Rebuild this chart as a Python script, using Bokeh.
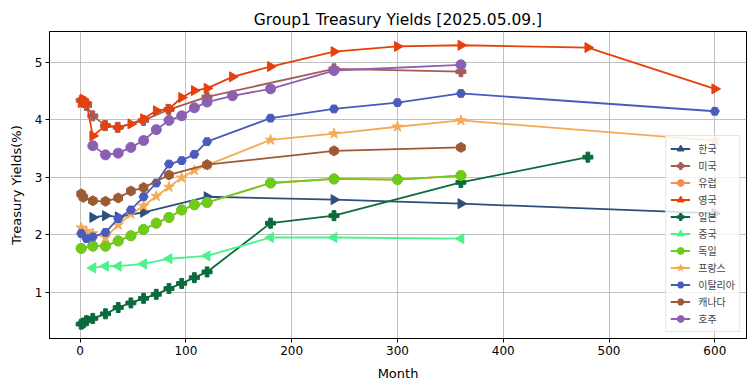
import math
from bokeh.plotting import figure
from bokeh.models import Range1d, FixedTicker
from bokeh.embed import file_html
from bokeh.resources import INLINE

# ---- data (months, yields %) ----
korea_m = [12, 24, 36, 60, 120, 240, 360, 600]
korea_y = [2.30, 2.33, 2.31, 2.39, 2.66, 2.61, 2.54, 2.37]

us_m = [1, 3, 6, 12, 24, 36, 60, 84, 120, 240, 360]
us_y = [4.34, 4.32, 4.25, 4.07, 3.90, 3.87, 3.99, 4.18, 4.40, 4.89, 4.84]

germany_m = [1, 12, 24, 36, 48, 60, 72, 84, 96, 108, 120, 180, 240, 300, 360]
germany_y = [1.76, 1.80, 1.80, 1.89, 1.98, 2.09, 2.20, 2.30, 2.43, 2.52, 2.56, 2.90, 2.97, 2.96, 3.03]

europe_m = [1, 12, 24, 36, 48, 60, 72, 84, 96, 108, 120, 180, 240, 300, 360]
europe_y = [1.76, 1.80, 1.80, 1.89, 1.98, 2.09, 2.20, 2.30, 2.43, 2.52, 2.56, 2.90, 2.97, 2.96, 3.03]

uk_m = [1, 3, 6, 12, 24, 36, 48, 60, 72, 84, 96, 108, 120, 144, 180, 240, 300, 360, 480, 600]
uk_y = [4.30, 4.36, 4.30, 3.72, 3.90, 3.87, 3.93, 4.02, 4.16, 4.19, 4.39, 4.51, 4.55, 4.75, 4.93, 5.19, 5.28, 5.30, 5.26, 4.54]

japan_m = [1, 3, 6, 12, 24, 36, 48, 60, 72, 84, 96, 108, 120, 180, 240, 360, 480]
japan_y = [0.44, 0.46, 0.50, 0.54, 0.62, 0.73, 0.81, 0.89, 0.96, 1.06, 1.15, 1.25, 1.35, 2.20, 2.33, 2.91, 3.35]

china_m = [12, 24, 36, 60, 84, 120, 180, 240, 360]
china_y = [1.42, 1.45, 1.45, 1.49, 1.58, 1.63, 1.95, 1.95, 1.93]

france_m = [1, 6, 12, 24, 36, 48, 60, 72, 84, 96, 108, 120, 180, 240, 300, 360, 600]
france_y = [2.12, 2.06, 2.02, 1.95, 2.17, 2.36, 2.50, 2.67, 2.83, 2.99, 3.12, 3.21, 3.65, 3.76, 3.88, 3.99, 3.64]

italy_m = [1, 6, 12, 24, 36, 48, 60, 72, 84, 96, 108, 120, 180, 240, 300, 360, 600]
italy_y = [2.02, 1.93, 1.96, 2.04, 2.28, 2.43, 2.66, 2.90, 3.23, 3.29, 3.40, 3.62, 4.03, 4.19, 4.30, 4.46, 4.15]

canada_m = [1, 3, 12, 24, 36, 48, 60, 84, 120, 240, 360]
canada_y = [2.71, 2.65, 2.59, 2.58, 2.64, 2.76, 2.82, 3.04, 3.22, 3.46, 3.52]

australia_m = [12, 24, 36, 48, 60, 72, 84, 96, 108, 120, 144, 180, 240, 360]
australia_y = [3.55, 3.39, 3.42, 3.52, 3.64, 3.83, 3.99, 4.07, 4.21, 4.31, 4.42, 4.54, 4.86, 4.96]

names = ["한국", "미국", "유럽", "영국", "일본", "중국", "독일", "프랑스", "이탈리아", "캐나다", "호주"]
x_ticks = [0, 100, 200, 300, 400, 500, 600]
y_ticks = [1, 2, 3, 4, 5]

# ---- styles ----
series = [
    (korea_m, korea_y, "#2C4F7C", "triangle", -math.pi / 2, 10),
    (us_m, us_y, "#A65B55", "plus", 0, 10),
    (europe_m, europe_y, "#F78C55", "circle", 0, 10),
    (uk_m, uk_y, "#E6400B", "triangle", -math.pi / 2, 10),
    (japan_m, japan_y, "#0A6B3C", "plus", 0, 10),
    (china_m, china_y, "#4BF28C", "triangle", math.pi / 2, 10),
    (germany_m, germany_y, "#6BCD19", "circle", 0, 10),
    (france_m, france_y, "#F5AA55", "star", 0, 11),
    (italy_m, italy_y, "#4B5BBD", "hex", 0, 9),
    (canada_m, canada_y, "#9E5A35", "hex", math.pi / 2, 10),
    (australia_m, australia_y, "#8B60B3", "circle", 0, 10),
]

p = figure(width=747, height=383, output_backend="svg", toolbar_location=None,
           x_range=Range1d(-28.95, 629.95), y_range=Range1d(0.19, 5.54),
           min_border_left=49, min_border_right=1, min_border_top=31, min_border_bottom=45,
           title="Group1 Treasury Yields [2025.05.09.]")

p.title.align = "center"
p.title.text_font = "DejaVu Sans"
p.title.text_font_size = "15.5px"
p.title.text_font_style = "normal"
p.title.text_color = "black"
p.title.standoff = 5

for (mx, my, col, mk, ang, sz), nm in zip(series, names):
    p.line(mx, my, line_color=col, line_width=1.8, legend_label=nm)
    p.scatter(mx, my, marker=mk, angle=ang, size=sz, fill_color=col, line_color=col,
              legend_label=nm)

p.xaxis.ticker = FixedTicker(ticks=x_ticks)
p.yaxis.ticker = FixedTicker(ticks=y_ticks)
p.xaxis.axis_label = "Month"
p.yaxis.axis_label = "Treasury Yields(%)"
for ax in (p.xaxis, p.yaxis):
    ax.axis_label_text_font = "DejaVu Sans"
    ax.axis_label_text_font_size = "13px"
    ax.axis_label_text_font_style = "normal"
    ax.axis_label_text_color = "black"
    ax.axis_label_standoff = 8
    ax.major_label_text_font = "DejaVu Sans"
    ax.major_label_text_font_size = "12px"
    ax.major_label_text_color = "black"
    ax.major_label_standoff = 3
    ax.minor_tick_line_color = None
    ax.major_tick_out = 4
    ax.major_tick_in = 0
    ax.major_tick_line_color = "black"
    ax.axis_line_color = "black"

p.grid.grid_line_color = "#b0b0b0"
p.grid.grid_line_width = 0.8
p.outline_line_color = "black"
p.outline_line_width = 1
p.outline_line_alpha = 1

lg = p.legend[0]
lg.location = "bottom_right"
lg.margin = 6
lg.padding = 4
lg.spacing = 0
lg.glyph_width = 20
lg.glyph_height = 17
lg.label_height = 17
lg.label_standoff = 8
lg.label_text_font = "Noto Sans CJK KR"
lg.label_text_font_size = "10px"
lg.border_line_color = "#cccccc"
lg.background_fill_alpha = 0.8

open("out.html", "w").write(file_html(p, INLINE))
